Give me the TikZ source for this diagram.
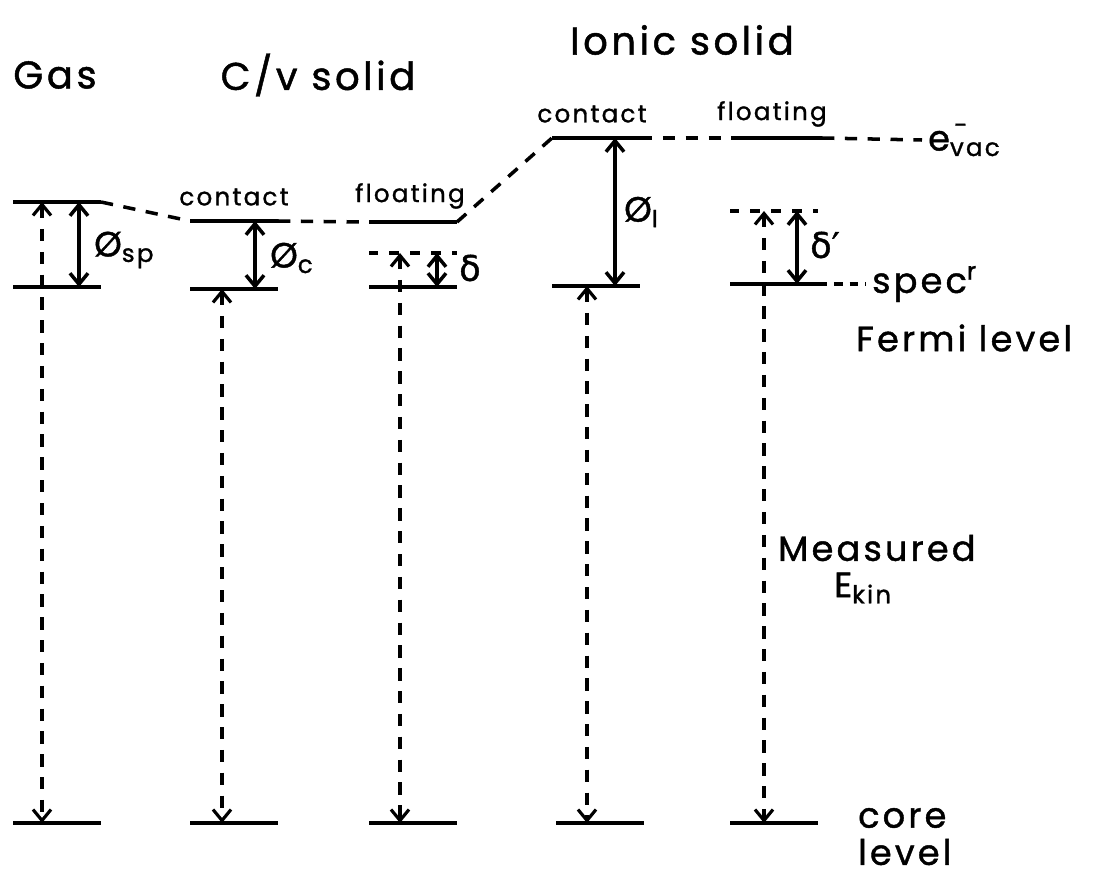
\documentclass[tikz,border=0pt]{standalone}
\usepackage{fontspec}
\setmainfont[LetterSpace=9,FakeBold=1.2]{Poppins}
\newfontfamily\greek[FakeBold=1.2]{DejaVu Sans}
\usetikzlibrary{arrows.meta}

\begin{document}
\begin{tikzpicture}[x=0.02cm,y=-0.02cm,
lev/.style={draw,line width=2.3pt,minimum width=1.76cm,minimum height=0pt,
inner sep=0pt,outer sep=0pt},
wlev/.style={lev,line width=1.8pt,dash pattern=on 5pt off 7pt},
vac/.style={line width=2pt,dash pattern=on 7pt off 6pt},
gap/.style={line width=2pt,{Straight Barb[length=2.2mm,width=3.6mm]}-{Straight Barb[length=2.2mm,width=3.6mm]}},
kin/.style={gap,line width=1.8pt,dash pattern=on 7pt off 6pt},
big/.style={font=\fontsize{22}{24}\selectfont},
lbl/.style={font=\fontsize{20}{22}\selectfont},
small/.style={font=\fontsize{14}{16}\selectfont}]
\useasboundingbox (0,0) rectangle (1117,882);
% titles
\node[big] (gas) at (55,75) {Gas};
\node[big] (cv) at (318,75) {C/v solid};
\node[big] (ionic) at (682,40) {Ionic solid};
\node[small] (cvct) at (234,197) {contact};
\node[small] (cvft) at (410,196) {floating};
\node[small] (ioct) at (592,114) {contact};
\node[small] (ioft) at (772,114) {floating};
% levels
\node[lev] (gasV) at (57,202) {};
\node[lev] (gasF) at (57,287) {};
\node[lev] (gasC) at (57,823) {};
\node[lev] (cvcV) at (234,221) {};
\node[lev] (cvcF) at (234,289) {};
\node[lev] (cvcC) at (234,823) {};
\node[lev] (cvfV) at (413,222) {};
\node[wlev] (cvfW) at (413,253) {};
\node[lev] (cvfF) at (413,287) {};
\node[lev] (cvfC) at (413,823) {};
\node[lev] (iocV) at (596,138) {};
\node[lev] (iocF) at (596,286) {};
\node[lev] (iocC) at (600,823) {};
\node[lev] (iofV) at (778,138) {};
\node[wlev] (iofW) at (774,211) {};
\node[lev] (iofF) at (774,284) {};
\node[lev] (iofC) at (774,823) {};
% right hand labels
\node[lbl,anchor=west] (evac) at (922,140) {e\rlap{\raisebox{2pt}{\textsuperscript{\,-}}}\textsubscript{vac}};
\node[lbl,anchor=west] (spec) at (866,284) {spec\textsuperscript{r}};
\node[lbl,anchor=west] (fermi) at (850,338) {Fermi level};
\node[lbl,anchor=west] (meas) at (772,548) {Measured};
\node[lbl,anchor=west] (ekin) at (828,588) {E\textsubscript{kin}};
\node[lbl,anchor=west] (core) at (852,818) {core};
\node[lbl,anchor=west] (corel) at (852,852) {level};
% vacuum level and fermi level
\draw[vac] (gasV.east) -- (cvcV.west);
\draw[vac] (cvcV.east) -- (cvfV.west);
\draw[vac] (cvfV.east) -- (iocV.west);
\draw[vac] (iocV.east) -- (iofV.west);
\draw[vac] (iofV.east) -- (evac.west);
\draw[vac,dash pattern=on 5pt off 4pt] (iofF.east) -- (spec.west);
% gas
\draw[kin] ([xshift=-0.3cm]gasV.center) -- ([xshift=-0.3cm]gasC.center);
\draw[gap] ([xshift=0.44cm]gasV.center) -- ([xshift=0.44cm]gasF.center);
\node[lbl,anchor=west] (phisp) at (88,250) {Ø\textsubscript{sp}};
% c/v solid
\draw[kin] ([xshift=-0.24cm]cvcF.center) -- ([xshift=-0.24cm]cvcC.center);
\draw[gap] ([xshift=0.42cm]cvcV.center) -- ([xshift=0.42cm]cvcF.center);
\node[lbl,anchor=west] (phic) at (264,258) {Ø\textsubscript{c}};
\draw[kin] ([xshift=-0.26cm]cvfW.center) -- ([xshift=-0.26cm]cvfC.center);
\draw[gap] ([xshift=0.48cm]cvfW.center) -- ([xshift=0.48cm]cvfF.center);
\node[lbl,anchor=west] (delta) at (453,268) {\greek δ};
% ionic solid
\draw[kin] ([xshift=-0.18cm]iocF.center) -- ([xshift=-0.18cm]iocF.center |- iocC.center);
\draw[gap] ([xshift=0.38cm]iocV.center) -- ([xshift=0.38cm]iocF.center);
\node[lbl,anchor=west] (phii) at (618,212) {Ø\textsubscript{I}};
\draw[kin] ([xshift=-0.2cm]iofW.center) -- ([xshift=-0.2cm]iofC.center);
\draw[gap] ([xshift=0.46cm]iofW.center) -- ([xshift=0.46cm]iofF.center);
\node[lbl,anchor=west] (deltap) at (804,245) {\greek δ′};
\end{tikzpicture}
\end{document}
